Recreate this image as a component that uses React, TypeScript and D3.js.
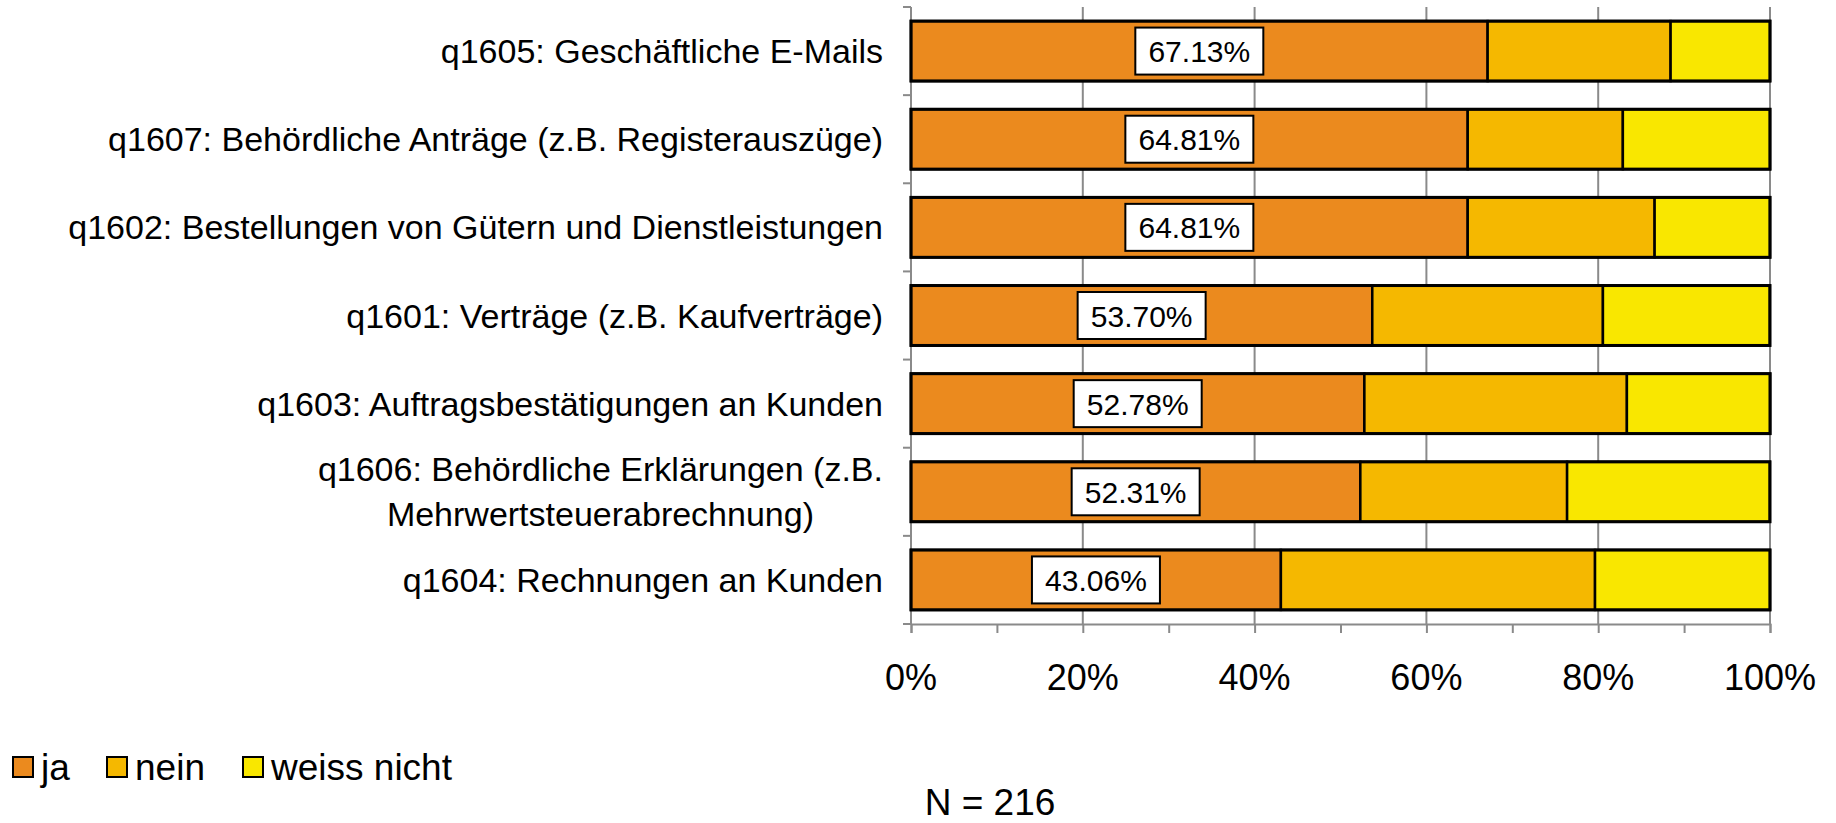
import * as d3 from 'd3';
import React, { useRef, useEffect } from 'react';

// categories, top to bottom
const categories = [
  ['q1605: Geschäftliche E-Mails'],
  ['q1607: Behördliche Anträge (z.B. Registerauszüge)'],
  ['q1602: Bestellungen von Gütern und Dienstleistungen'],
  ['q1601: Verträge (z.B. Kaufverträge)'],
  ['q1603: Auftragsbestätigungen an Kunden'],
  ['q1606: Behördliche Erklärungen (z.B.', 'Mehrwertsteuerabrechnung)'],
  ['q1604: Rechnungen an Kunden'],
];
const ja = [67.13, 64.81, 64.81, 53.70, 52.78, 52.31, 43.06];
const nein = [21.30, 18.06, 21.76, 26.85, 30.56, 24.07, 36.57];
const weissNicht = [11.57, 17.13, 13.43, 19.44, 16.67, 23.61, 20.37];
const seriesNames = ['ja', 'nein', 'weiss nicht'];
const seriesColors = ['#EB8A1E', '#F5B800', '#F9E700'];
const xTicks = [0, 20, 40, 60, 80, 100];
const note = 'N = 216';

const W = 1836;
const H = 823;
const font = 'Liberation Sans, Arial, sans-serif';

function BarChart() {
  const ref = useRef<SVGSVGElement>(null);

  var margin = { top: 7, left: 911, right: 66, bottom: 199 };

  useEffect(() => {
    draw();
  });

  const draw = () => {
    const svg = d3.select(ref.current).attr('width', W).attr('height', H);
    svg.selectAll('*').remove();

    const rows = categories.map((c, i) => ({
      label: c,
      key: String(i),
      values: [ja[i], nein[i], weissNicht[i]],
    }));

    const y = d3.scaleBand()
      .domain(rows.map((d) => d.key))
      .range([margin.top, H - margin.bottom])
      .paddingInner(0.32)
      .paddingOuter(0.16);

    const x = d3.scaleLinear()
      .domain([0, 100])
      .range([margin.left, W - margin.right]);

    const y0 = margin.top;
    const y1 = H - margin.bottom;

    // gridlines
    svg.append('g')
      .selectAll('line')
      .data(xTicks.filter((t) => t > 0))
      .enter()
      .append('line')
      .attr('x1', (d) => x(d))
      .attr('x2', (d) => x(d))
      .attr('y1', y0)
      .attr('y2', y1)
      .attr('stroke', '#8a8a8a')
      .attr('stroke-width', 2);

    // y axis line + ticks at category boundaries
    svg.append('line')
      .attr('x1', x(0)).attr('x2', x(0))
      .attr('y1', y0).attr('y2', y1)
      .attr('stroke', '#8a8a8a').attr('stroke-width', 2);
    const boundaries = d3.range(rows.length + 1).map((i) => y0 + (y1 - y0) * i / rows.length);
    svg.append('g')
      .selectAll('line')
      .data(boundaries)
      .enter()
      .append('line')
      .attr('x1', x(0) - 8).attr('x2', x(0))
      .attr('y1', (d) => d).attr('y2', (d) => d)
      .attr('stroke', '#8a8a8a').attr('stroke-width', 2);

    // x axis
    const xAxis = d3.axisBottom(x)
      .tickValues(d3.range(0, 101, 10))
      .tickSize(9)
      .tickFormat(() => '');
    const ax = svg.append('g')
      .attr('transform', `translate(0,${y1})`)
      .call(xAxis);
    ax.select('.domain').attr('stroke', '#8a8a8a').attr('stroke-width', 2);
    ax.selectAll('.tick line').attr('stroke', '#8a8a8a').attr('stroke-width', 2);

    svg.append('g')
      .selectAll('text')
      .data(xTicks)
      .enter()
      .append('text')
      .attr('x', (d) => x(d))
      .attr('y', y1 + 66)
      .attr('text-anchor', 'middle')
      .style('font-family', font)
      .style('font-size', '36px')
      .attr('fill', '#000')
      .text((d) => d + '%');

    // stacked bars
    const barg = svg.append('g');
    rows.forEach((r) => {
      let acc = 0;
      r.values.forEach((v, j) => {
        barg.append('rect')
          .attr('x', x(acc))
          .attr('y', y(r.key)!)
          .attr('width', x(acc + v) - x(acc))
          .attr('height', y.bandwidth())
          .attr('fill', seriesColors[j])
          .attr('stroke', '#000')
          .attr('stroke-width', 2.5);
        acc += v;
      });
      // heavier outline around the whole bar
      barg.append('rect')
        .attr('x', x(0))
        .attr('y', y(r.key)!)
        .attr('width', x(acc) - x(0))
        .attr('height', y.bandwidth())
        .attr('fill', 'none')
        .attr('stroke', '#000')
        .attr('stroke-width', 3);
    });

    // data labels for "ja"
    const lab = svg.append('g');
    rows.forEach((r) => {
      const cx = (x(0) + x(r.values[0])) / 2;
      const cy = y(r.key)! + y.bandwidth() / 2;
      const bw = 128, bh = 47;
      lab.append('rect')
        .attr('x', cx - bw / 2)
        .attr('y', cy - bh / 2)
        .attr('width', bw)
        .attr('height', bh)
        .attr('fill', '#fff')
        .attr('stroke', '#000')
        .attr('stroke-width', 2);
      lab.append('text')
        .attr('x', cx)
        .attr('y', cy + 11)
        .attr('text-anchor', 'middle')
        .style('font-family', font)
        .style('font-size', '30px')
        .text(d3.format('.2f')(r.values[0]) + '%');
    });

    // category labels
    const catg = svg.append('g');
    rows.forEach((r) => {
      const cy = y(r.key)! + y.bandwidth() / 2;
      const n = r.label.length;
      const lineH = 45;
      const t = catg.append('text')
        .style('font-family', font)
        .style('font-size', '34px')
        .attr('fill', '#000');
      r.label.forEach((line, k) => {
        t.append('tspan')
          .attr('x', 883)
          .attr('y', cy + 12 + (k - (n - 1) / 2) * lineH)
          .text(line);
      });
      if (n > 1) {
        // center wrapped lines within a right-aligned block
        const nodes = t.selectAll('tspan').nodes() as SVGTSpanElement[];
        const widths = nodes.map((nd) => nd.getComputedTextLength());
        const maxW = d3.max(widths)!;
        nodes.forEach((nd, k) => {
          d3.select(nd).attr('x', 883 - maxW / 2 - widths[k] / 2);
        });
      } else {
        t.attr('text-anchor', 'end');
        t.selectAll('tspan').attr('text-anchor', 'end');
      }
    });

    // legend
    const legX = [13, 107, 243];
    const leg = svg.append('g');
    seriesNames.forEach((s, i) => {
      leg.append('rect')
        .attr('x', legX[i])
        .attr('y', 757)
        .attr('width', 20)
        .attr('height', 20)
        .attr('fill', seriesColors[i])
        .attr('stroke', '#000')
        .attr('stroke-width', 2);
      leg.append('text')
        .attr('x', legX[i] + 28)
        .attr('y', 780)
        .style('font-family', font)
        .style('font-size', '37px')
        .text(s);
    });

    svg.append('text')
      .attr('x', 990)
      .attr('y', 815)
      .attr('text-anchor', 'middle')
      .style('font-family', font)
      .style('font-size', '37px')
      .text(note);
  };

  return (
    <svg ref={ref} style={{ display: 'block' }}></svg>
  );
}

export default function App() {
  return (
    <div style={{ position: 'absolute', left: 0, top: 0, background: '#fff' }}>
      <BarChart />
    </div>
  );
}
